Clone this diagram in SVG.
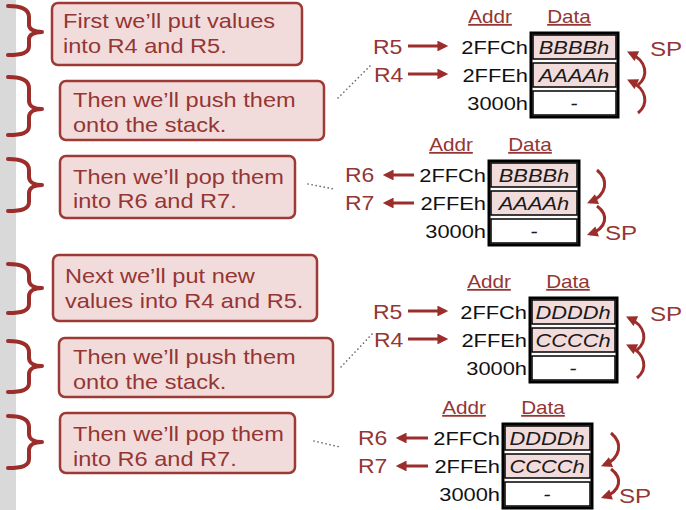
<svg xmlns="http://www.w3.org/2000/svg" width="686" height="510" viewBox="0 0 686 510">
<style>
.bt{font-family:"Liberation Sans",Arial,sans-serif;font-size:20.5px;fill:#943634}
.box{fill:#f2dcdb;stroke:#9e3a36;stroke-width:2.5}
.brace{fill:none;stroke:#9b2d2a;stroke-width:4;stroke-linecap:round;stroke-linejoin:round}
.hd{font-family:"Liberation Sans",Arial,sans-serif;font-size:18px;fill:#943634;text-anchor:middle;text-decoration:underline}
.ad{font-family:"Liberation Sans",Arial,sans-serif;font-size:19px;fill:#111;text-anchor:end}
.cv{font-family:"Liberation Sans",Arial,sans-serif;font-size:19px;font-style:italic;fill:#1a1a1a;text-anchor:middle}
.rl{font-family:"Liberation Sans",Arial,sans-serif;font-size:20px;fill:#943634}
.sp{font-family:"Liberation Sans",Arial,sans-serif;font-size:21px;fill:#943634}
.outer{fill:#fff;stroke:#000;stroke-width:3}
.pk{fill:#f2dcdb;stroke:#000;stroke-width:1.5}
.wh{fill:#fff;stroke:#000;stroke-width:1.5}
.arr{fill:none;stroke:#9b2d2a;stroke-width:3;marker-end:url(#ah)}
.dot{fill:none;stroke:#666;stroke-width:1.6;stroke-dasharray:0.1 4;stroke-linecap:round}
</style>
<defs>
<marker id="ah" viewBox="0 0 10 10" refX="7" refY="5" markerWidth="4" markerHeight="3.6" orient="auto" markerUnits="strokeWidth">
<path d="M0,0 L10,5 L0,10 z" fill="#9b2d2a"/>
</marker>
</defs>
<rect x="0" y="0" width="16" height="510" fill="#d9d9d9"/>

<g id="braces">
<path class="brace" d="M8 6 C22 6 29 9 29 17 L29 25 C29 29 34 32 42 32 C34 32 29 35 29 39 L29 46 C29 53 22 55 8 55"/>
<path class="brace" d="M8 77 C22 77 29 80 29 88 L29 101 C29 106 34 109 42 109 C34 109 29 112 29 117 L29 126 C29 133 22 135 8 135"/>
<path class="brace" d="M8 159 C22 159 29 162 29 170 L29 177 C29 182 34 185 42 185 C34 185 29 188 29 193 L29 202 C29 209 22 211 8 211"/>
<path class="brace" d="M8 264 C22 264 29 267 29 275 L29 280 C29 285 34 288 42 288 C34 288 29 291 29 296 L29 304 C29 311 22 313 8 313"/>
<path class="brace" d="M8 341 C22 341 29 344 29 352 L29 358 C29 363 34 366 42 366 C34 366 29 369 29 374 L29 383 C29 390 22 392 8 392"/>
<path class="brace" d="M8 416 C22 416 29 419 29 427 L29 434 C29 439 34 442 42 442 C34 442 29 445 29 450 L29 459 C29 466 22 468 8 468"/>
</g>

<g id="box1">
<rect class="box" x="52" y="3" width="250" height="62" rx="6"/>
<text class="bt" transform="translate(63 28) scale(1.15 1)">First we’ll put values</text>
<text class="bt" transform="translate(63 53) scale(1.15 1)">into R4 and R5.</text>
</g>
<g id="box2">
<rect class="box" x="60" y="81" width="264" height="59" rx="6"/>
<text class="bt" transform="translate(73 107) scale(1.15 1)">Then we’ll push them</text>
<text class="bt" transform="translate(73 132) scale(1.15 1)">onto the stack.</text>
</g>
<g id="box3">
<rect class="box" x="60" y="156" width="235" height="62" rx="6"/>
<text class="bt" transform="translate(73 184) scale(1.15 1)">Then we’ll pop them</text>
<text class="bt" transform="translate(73 208) scale(1.15 1)">into R6 and R7.</text>
</g>
<g id="box4">
<rect class="box" x="53" y="255" width="264" height="66" rx="6"/>
<text class="bt" transform="translate(65 283) scale(1.15 1)">Next we’ll put new</text>
<text class="bt" transform="translate(65 308) scale(1.15 1)">values into R4 and R5.</text>
</g>
<g id="box5">
<rect class="box" x="59" y="338" width="274" height="59" rx="6"/>
<text class="bt" transform="translate(73 364) scale(1.15 1)">Then we’ll push them</text>
<text class="bt" transform="translate(73 389) scale(1.15 1)">onto the stack.</text>
</g>
<g id="box6">
<rect class="box" x="60" y="413" width="235" height="60" rx="6"/>
<text class="bt" transform="translate(73 441) scale(1.15 1)">Then we’ll pop them</text>
<text class="bt" transform="translate(73 466) scale(1.15 1)">into R6 and R7.</text>
</g>

<g id="table1">
<text class="hd" transform="translate(490 23) scale(1.15 1)">Addr</text>
<text class="hd" transform="translate(569 23) scale(1.15 1)">Data</text>
<rect class="outer" x="531" y="33" width="87" height="84"/>
<rect class="pk" x="533" y="35" width="83" height="24"/>
<rect class="pk" x="533" y="63" width="83" height="24"/>
<rect class="wh" x="533" y="91" width="83" height="24"/>
<text class="ad" transform="translate(528 54) scale(1.15 1)">2FFCh</text>
<text class="ad" transform="translate(528 82) scale(1.15 1)">2FFEh</text>
<text class="ad" transform="translate(528 110) scale(1.15 1)">3000h</text>
<text class="cv" transform="translate(574 54) scale(1.15 1)">BBBBh</text>
<text class="cv" transform="translate(574 82) scale(1.15 1)">AAAAh</text>
<text class="cv" transform="translate(574 110) scale(1.15 1)">-</text>
<text class="rl" transform="translate(373 54) scale(1.15 1)">R5</text>
<text class="rl" transform="translate(374 82) scale(1.15 1)">R4</text>
<text class="sp" transform="translate(650 56) scale(1.15 1)">SP</text>
</g>

<g id="table2">
<text class="hd" transform="translate(451 151) scale(1.15 1)">Addr</text>
<text class="hd" transform="translate(530 151) scale(1.15 1)">Data</text>
<rect class="outer" x="489" y="161" width="90" height="84"/>
<rect class="pk" x="491" y="163" width="86" height="24"/>
<rect class="pk" x="491" y="191" width="86" height="24"/>
<rect class="wh" x="491" y="219" width="86" height="24"/>
<text class="ad" transform="translate(486 182) scale(1.15 1)">2FFCh</text>
<text class="ad" transform="translate(486 210) scale(1.15 1)">2FFEh</text>
<text class="ad" transform="translate(486 238) scale(1.15 1)">3000h</text>
<text class="cv" transform="translate(534 182) scale(1.15 1)">BBBBh</text>
<text class="cv" transform="translate(534 210) scale(1.15 1)">AAAAh</text>
<text class="cv" transform="translate(534 238) scale(1.15 1)">-</text>
<text class="rl" transform="translate(345 182) scale(1.15 1)">R6</text>
<text class="rl" transform="translate(345 210) scale(1.15 1)">R7</text>
<text class="sp" transform="translate(605 240) scale(1.15 1)">SP</text>
</g>

<g id="table3">
<text class="hd" transform="translate(489 288) scale(1.15 1)">Addr</text>
<text class="hd" transform="translate(568 288) scale(1.15 1)">Data</text>
<rect class="outer" x="530" y="298" width="87" height="84"/>
<rect class="pk" x="532" y="300" width="83" height="24"/>
<rect class="pk" x="532" y="328" width="83" height="24"/>
<rect class="wh" x="532" y="356" width="83" height="24"/>
<text class="ad" transform="translate(527 319) scale(1.15 1)">2FFCh</text>
<text class="ad" transform="translate(527 347) scale(1.15 1)">2FFEh</text>
<text class="ad" transform="translate(527 375) scale(1.15 1)">3000h</text>
<text class="cv" transform="translate(573 319) scale(1.15 1)">DDDDh</text>
<text class="cv" transform="translate(573 347) scale(1.15 1)">CCCCh</text>
<text class="cv" transform="translate(573 375) scale(1.15 1)">-</text>
<text class="rl" transform="translate(373 319) scale(1.15 1)">R5</text>
<text class="rl" transform="translate(374 347) scale(1.15 1)">R4</text>
<text class="sp" transform="translate(650 321) scale(1.15 1)">SP</text>
</g>

<g id="table4">
<text class="hd" transform="translate(464 414) scale(1.15 1)">Addr</text>
<text class="hd" transform="translate(543 414) scale(1.15 1)">Data</text>
<rect class="outer" x="503" y="424" width="89" height="84"/>
<rect class="pk" x="505" y="426" width="85" height="24"/>
<rect class="pk" x="505" y="454" width="85" height="24"/>
<rect class="wh" x="505" y="482" width="85" height="24"/>
<text class="ad" transform="translate(500 445) scale(1.15 1)">2FFCh</text>
<text class="ad" transform="translate(500 473) scale(1.15 1)">2FFEh</text>
<text class="ad" transform="translate(500 501) scale(1.15 1)">3000h</text>
<text class="cv" transform="translate(547 445) scale(1.15 1)">DDDDh</text>
<text class="cv" transform="translate(547 473) scale(1.15 1)">CCCCh</text>
<text class="cv" transform="translate(547 501) scale(1.15 1)">-</text>
<text class="rl" transform="translate(358 445) scale(1.15 1)">R6</text>
<text class="rl" transform="translate(358 473) scale(1.15 1)">R7</text>
<text class="sp" transform="translate(619 503) scale(1.15 1)">SP</text>
</g>

<g id="connectors">
<path class="dot" d="M338 98 L370 66"/>
<path class="dot" d="M308 184 L334 189"/>
<path class="dot" d="M341 367 L373 333"/>
<path class="dot" d="M314 441 L340 447"/>

<path class="arr" d="M408 46 L445 46"/>
<path class="arr" d="M408 74 L445 74"/>
<path class="arr" d="M414 175 L386 175"/>
<path class="arr" d="M414 203 L386 203"/>
<path class="arr" d="M408 311 L445 311"/>
<path class="arr" d="M408 339 L445 339"/>
<path class="arr" d="M428 438 L399 438"/>
<path class="arr" d="M428 466 L399 466"/>

<path class="arr" d="M638 85 C649 76 647 61 630 53"/>
<path class="arr" d="M638 113 C649 104 647 89 630 81"/>
<path class="arr" d="M637 350 C648 341 646 326 629 318"/>
<path class="arr" d="M637 378 C648 369 646 354 629 346"/>

<path class="arr" d="M597 170 C609 180 607 195 590 202"/>
<path class="arr" d="M597 206 C609 215 607 228 590 234"/>
<path class="arr" d="M611 433 C623 443 621 458 604 465"/>
<path class="arr" d="M611 469 C623 478 621 491 604 497"/>
</g>
</svg>
